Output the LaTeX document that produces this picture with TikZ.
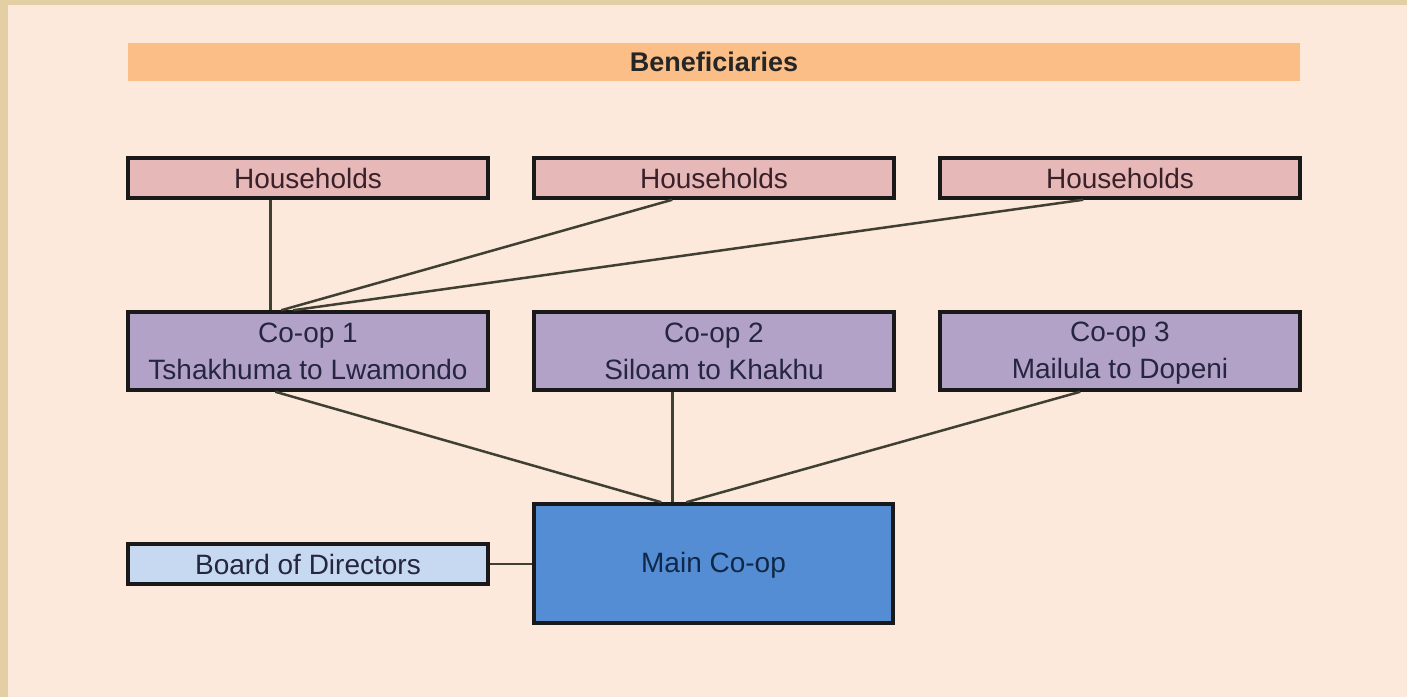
\documentclass[tikz,border=0pt]{standalone}
\usepackage{fontspec}
\setmainfont{Liberation Sans}
\usetikzlibrary{calc}
\definecolor{tanborder}{HTML}{E3CFA3}
\definecolor{peach}{HTML}{FCE9DB}
\definecolor{benef}{HTML}{FBBE86}
\definecolor{hhfill}{HTML}{E6B9B8}
\definecolor{coopfill}{HTML}{B3A2C7}
\definecolor{mainfill}{HTML}{548DD4}
\definecolor{boardfill}{HTML}{C6D9F1}
\definecolor{linkgray}{HTML}{403F33}
\definecolor{hhtext}{HTML}{3A2028}
\definecolor{cooptext}{HTML}{262640}
\definecolor{maintext}{HTML}{102848}
\newcommand\mystrut{\rule[-3pt]{0pt}{26pt}}
\begin{document}
\begin{tikzpicture}[x=1pt,y=-1pt,
  box/.style={draw=black!90, line width=3.5pt, inner sep=0pt, align=center,
    font=\fontsize{28}{37}\selectfont},
  hhbox/.style={box, fill=hhfill, text=hhtext, minimum width=360pt, minimum height=40pt},
  coopbox/.style={box, fill=coopfill, text=cooptext, minimum width=360pt, minimum height=78pt},
  link/.style={draw=linkgray, line width=2.5pt}]
\fill[tanborder] (0,0) rectangle (1407,697);
\fill[peach] (8,5) rectangle (1407,697);
\useasboundingbox (0,0) rectangle (1407,697);
\node[fill=benef, minimum width=1172pt, minimum height=38pt, inner sep=0pt,
  font=\fontsize{27}{32}\selectfont\bfseries, text=black!85] (ben) at (714,62) {Beneficiaries};
\node[hhbox] (h1) at (308,178) {\mystrut Households};
\node[hhbox] (h2) at (714,178) {\mystrut Households};
\node[hhbox] (h3) at (1120,178) {\mystrut Households};
\node[coopbox] (c1) at (308,351) {\mystrut Co-op 1\\\mystrut Tshakhuma to Lwamondo};
\node[coopbox] (c2) at (714,351) {\mystrut Co-op 2\\\mystrut Siloam to Khakhu};
\node[coopbox] (c3) at (1120,351) {\mystrut Co-op 3\\\mystrut Mailula to Dopeni};
\node[box, fill=mainfill, text=maintext, minimum width=359pt, minimum height=119pt] (main) at (713.5,563.5) {\mystrut Main Co-op};
\node[box, fill=boardfill, text=cooptext, minimum width=360pt, minimum height=40pt] (board) at (308,564) {\mystrut Board of Directors};
% connectors
\draw[link] ($(h1.south west)+(144,0)$) -- ($(c1.north west)+(144,0)$);
\draw[link] ($(h2.south west)+(140,0)$) -- ($(c1.north west)+(155,0)$);
\draw[link] ($(h3.south west)+(145,0)$) -- ($(c1.north west)+(167,0)$);
\draw[link] ($(c1.south west)+(149,0)$) -- ($(main.north west)+(129,0)$);
\draw[link] ($(c2.south west)+(140,0)$) -- ($(main.north west)+(140,0)$);
\draw[link] ($(c3.south west)+(142,0)$) -- ($(main.north west)+(154,0)$);
\draw[link] (board.east) -- (main.west |- board.east);
\end{tikzpicture}
\end{document}
